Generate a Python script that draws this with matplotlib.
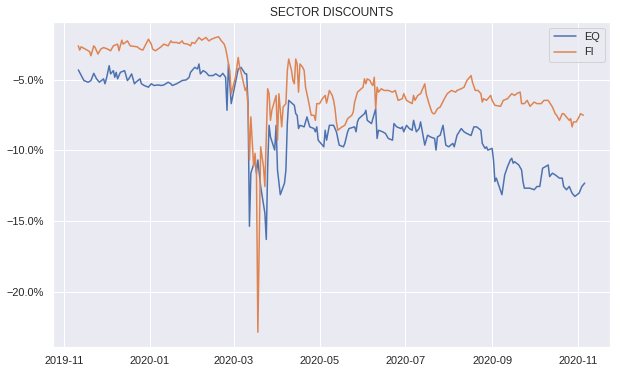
import numpy as np
import pandas as pd
import matplotlib
matplotlib.use("Agg")
import matplotlib.pyplot as plt
import matplotlib.dates as mdates
from matplotlib.ticker import PercentFormatter
import seaborn as sns

# EQ discount (%)
eq_dates = [
    "2019-11-11", "2019-11-15", "2019-11-18", "2019-11-20", "2019-11-22", "2019-11-24", "2019-11-26", "2019-11-29", "2019-11-30",
    "2019-12-01", "2019-12-03", "2019-12-04", "2019-12-06", "2019-12-07", "2019-12-08", "2019-12-09", "2019-12-11", "2019-12-14",
    "2019-12-16", "2019-12-17", "2019-12-19", "2019-12-21", "2019-12-22", "2019-12-25", "2019-12-26", "2019-12-28", "2019-12-31",
    "2020-01-02", "2020-01-04", "2020-01-07", "2020-01-09", "2020-01-11", "2020-01-14", "2020-01-16", "2020-01-17", "2020-01-20",
    "2020-01-22", "2020-01-24", "2020-01-27", "2020-01-29", "2020-01-30",
    "2020-02-02", "2020-02-04", "2020-02-05", "2020-02-06", "2020-02-08", "2020-02-10", "2020-02-12", "2020-02-15", "2020-02-17",
    "2020-02-20", "2020-02-22", "2020-02-24", "2020-02-25", "2020-02-26", "2020-02-28",
    "2020-03-04", "2020-03-06", "2020-03-09", "2020-03-10", "2020-03-11", "2020-03-12", "2020-03-13", "2020-03-16", "2020-03-17",
    "2020-03-18", "2020-03-20", "2020-03-23", "2020-03-24", "2020-03-25", "2020-03-26", "2020-03-27", "2020-03-30", "2020-03-31",
    "2020-04-01", "2020-04-03", "2020-04-06", "2020-04-07", "2020-04-08", "2020-04-09", "2020-04-13", "2020-04-14", "2020-04-15",
    "2020-04-16", "2020-04-17", "2020-04-20", "2020-04-22", "2020-04-24", "2020-04-27", "2020-04-28", "2020-04-29", "2020-04-30",
    "2020-05-04", "2020-05-05", "2020-05-06", "2020-05-08", "2020-05-11", "2020-05-13", "2020-05-15", "2020-05-18", "2020-05-19",
    "2020-05-21", "2020-05-22", "2020-05-26", "2020-05-27", "2020-05-28", "2020-05-29",
    "2020-06-02", "2020-06-03", "2020-06-04", "2020-06-07", "2020-06-09", "2020-06-10", "2020-06-11", "2020-06-12", "2020-06-15",
    "2020-06-17", "2020-06-19", "2020-06-22", "2020-06-23", "2020-06-25", "2020-06-28", "2020-06-29", "2020-06-30",
    "2020-07-02", "2020-07-04", "2020-07-06", "2020-07-07", "2020-07-09", "2020-07-11", "2020-07-12", "2020-07-15", "2020-07-17",
    "2020-07-19", "2020-07-22", "2020-07-23", "2020-07-24", "2020-07-26", "2020-07-28", "2020-07-30",
    "2020-08-01", "2020-08-04", "2020-08-05", "2020-08-07", "2020-08-10", "2020-08-12", "2020-08-14", "2020-08-17", "2020-08-19",
    "2020-08-21", "2020-08-24", "2020-08-25", "2020-08-27", "2020-08-28", "2020-08-29",
    "2020-09-01", "2020-09-02", "2020-09-03", "2020-09-04", "2020-09-06", "2020-09-08", "2020-09-10", "2020-09-12", "2020-09-14",
    "2020-09-15", "2020-09-16", "2020-09-17", "2020-09-20", "2020-09-22", "2020-09-23", "2020-09-24", "2020-09-28",
    "2020-10-01", "2020-10-03", "2020-10-05", "2020-10-07", "2020-10-09", "2020-10-11", "2020-10-12", "2020-10-14", "2020-10-16",
    "2020-10-19", "2020-10-21", "2020-10-22", "2020-10-24", "2020-10-26", "2020-10-28", "2020-10-30",
    "2020-11-02", "2020-11-04", "2020-11-06",
]
eq_vals = [
    -4.32, -5.07, -5.19, -5.07, -4.56, -4.95, -5.19, -4.95, -5.30,
    -4.95, -4.02, -4.60, -4.37, -4.84, -4.49, -4.95, -4.49, -4.37,
    -5.07, -4.95, -4.60, -5.30, -5.19, -4.95, -5.30, -5.42, -5.54,
    -5.30, -5.42, -5.38, -5.42, -5.38, -5.19, -5.30, -5.42, -5.30,
    -5.19, -5.07, -5.02, -4.84, -4.49,
    -4.14, -4.25, -3.90, -4.60, -4.37, -4.49, -4.72, -4.72, -4.60,
    -4.79, -4.56, -4.84, -7.17, -3.90, -6.70,
    -4.25, -4.14, -4.60, -4.60, -6.70, -15.36, -11.61, -10.68, -11.61,
    -10.68, -12.55, -14.42, -16.29, -11.15, -8.23, -9.05, -9.98, -8.23,
    -11.38, -13.13, -12.31, -11.38, -8.11, -6.47, -6.82, -7.41, -7.52,
    -8.46, -8.23, -8.34, -7.64, -8.34, -8.46, -8.69, -8.34, -9.28,
    -9.75, -8.58, -9.28, -8.23, -8.23, -8.69, -9.63, -9.75, -9.51,
    -8.69, -8.46, -8.34, -8.69, -7.99, -7.76,
    -7.41, -7.17, -7.88, -8.11, -7.41, -7.06, -9.16, -8.58, -8.69,
    -8.81, -9.16, -9.28, -8.11, -8.34, -8.46, -8.34, -8.69,
    -8.23, -8.46, -8.58, -7.88, -8.69, -8.46, -7.99, -9.63, -8.93,
    -9.05, -9.16, -9.98, -9.05, -8.93, -8.23, -9.63,
    -9.75, -9.51, -9.75, -8.93, -8.46, -8.69, -8.81, -8.95, -8.34,
    -8.34, -8.58, -9.51, -9.86, -9.75, -9.98,
    -9.86, -10.68, -12.20, -11.96, -12.55, -13.13, -11.73, -11.15, -10.68,
    -10.56, -10.91, -10.80, -11.03, -11.38, -12.20, -12.67, -12.67,
    -12.78, -12.55, -12.55, -11.26, -11.15, -11.03, -11.85, -11.61, -11.73,
    -11.96, -11.96, -12.55, -12.78, -12.55, -13.02, -13.25,
    -13.02, -12.55, -12.31,
]

# FI discount (%)
fi_dates = [
    "2019-11-11", "2019-11-12", "2019-11-13", "2019-11-16", "2019-11-19", "2019-11-20", "2019-11-22", "2019-11-23", "2019-11-25",
    "2019-11-27", "2019-11-29",
    "2019-12-02", "2019-12-04", "2019-12-06", "2019-12-09", "2019-12-10", "2019-12-12", "2019-12-13", "2019-12-16", "2019-12-18",
    "2019-12-23", "2019-12-25", "2019-12-27", "2019-12-31",
    "2020-01-02", "2020-01-03", "2020-01-05", "2020-01-09", "2020-01-11", "2020-01-14", "2020-01-16", "2020-01-17", "2020-01-20",
    "2020-01-22", "2020-01-24", "2020-01-25", "2020-01-28", "2020-01-30", "2020-01-31",
    "2020-02-02", "2020-02-05", "2020-02-07", "2020-02-10", "2020-02-12", "2020-02-14", "2020-02-17", "2020-02-19", "2020-02-21",
    "2020-02-23", "2020-02-24", "2020-02-25", "2020-02-27", "2020-02-28",
    "2020-03-02", "2020-03-04", "2020-03-05", "2020-03-06", "2020-03-09", "2020-03-10", "2020-03-11", "2020-03-12", "2020-03-13",
    "2020-03-15", "2020-03-16", "2020-03-17", "2020-03-18", "2020-03-19", "2020-03-20", "2020-03-22", "2020-03-23", "2020-03-25",
    "2020-03-26", "2020-03-27", "2020-03-28", "2020-03-29", "2020-03-31",
    "2020-04-01", "2020-04-02", "2020-04-04", "2020-04-05", "2020-04-07", "2020-04-08", "2020-04-09", "2020-04-11", "2020-04-12",
    "2020-04-13", "2020-04-14", "2020-04-15", "2020-04-16", "2020-04-17", "2020-04-19", "2020-04-20", "2020-04-21", "2020-04-23",
    "2020-04-25", "2020-04-27", "2020-04-28", "2020-04-29",
    "2020-05-01", "2020-05-03", "2020-05-05", "2020-05-06", "2020-05-08", "2020-05-10", "2020-05-11", "2020-05-12", "2020-05-13",
    "2020-05-14", "2020-05-17", "2020-05-19", "2020-05-21", "2020-05-24", "2020-05-25", "2020-05-26", "2020-05-28",
    "2020-06-01", "2020-06-02", "2020-06-03", "2020-06-04", "2020-06-06", "2020-06-07", "2020-06-08", "2020-06-09", "2020-06-10",
    "2020-06-11", "2020-06-12", "2020-06-14", "2020-06-16", "2020-06-19", "2020-06-22", "2020-06-24", "2020-06-26", "2020-06-29",
    "2020-06-30",
    "2020-07-02", "2020-07-04", "2020-07-06", "2020-07-07", "2020-07-08", "2020-07-10", "2020-07-12", "2020-07-15", "2020-07-16",
    "2020-07-18", "2020-07-20", "2020-07-21", "2020-07-22", "2020-07-24", "2020-07-26", "2020-07-29", "2020-07-31",
    "2020-08-03", "2020-08-06", "2020-08-07", "2020-08-10", "2020-08-12", "2020-08-14", "2020-08-17", "2020-08-18", "2020-08-20",
    "2020-08-22", "2020-08-24", "2020-08-25", "2020-08-26", "2020-08-28", "2020-08-31",
    "2020-09-01", "2020-09-03", "2020-09-07", "2020-09-09", "2020-09-10", "2020-09-12", "2020-09-15", "2020-09-17", "2020-09-19",
    "2020-09-21", "2020-09-22", "2020-09-24", "2020-09-26", "2020-09-28",
    "2020-10-01", "2020-10-03", "2020-10-06", "2020-10-08", "2020-10-11", "2020-10-14", "2020-10-16", "2020-10-17", "2020-10-19",
    "2020-10-21", "2020-10-22", "2020-10-24", "2020-10-26", "2020-10-27", "2020-10-28", "2020-10-29", "2020-10-31",
    "2020-11-02", "2020-11-03", "2020-11-05",
]
fi_vals = [
    -2.62, -2.92, -2.69, -2.85, -3.02, -3.32, -2.62, -2.74, -3.20,
    -2.85, -2.74,
    -2.85, -2.97, -2.62, -2.50, -2.97, -2.22, -2.50, -2.27, -2.62,
    -2.69, -2.85, -2.92, -2.15,
    -2.50, -2.85, -2.97, -2.69, -2.50, -2.62, -2.27, -2.38, -2.38,
    -2.45, -2.27, -2.45, -2.50, -2.62, -2.38,
    -2.45, -2.03, -2.22, -2.03, -2.27, -2.15, -2.03, -1.98, -2.27,
    -2.50, -2.80, -3.30, -4.40, -6.00,
    -4.84, -3.44, -4.14, -4.49, -5.77, -5.54, -6.94, -10.68, -7.64,
    -11.15, -10.21, -11.61, -22.84, -16.52, -9.75, -11.15, -12.55, -5.65,
    -6.00, -7.88, -7.17, -6.82, -6.12,
    -9.28, -6.00, -8.34, -6.94, -6.70, -4.37, -3.55, -4.37, -5.07,
    -5.30, -3.55, -3.90, -5.89, -3.90, -4.14, -4.37, -5.54, -6.47,
    -7.52, -7.52, -7.88, -6.70,
    -6.70, -6.35, -6.12, -6.66, -5.77, -6.12, -6.47, -7.06, -7.99,
    -8.58, -8.34, -8.23, -7.76, -7.52, -7.29, -6.59, -5.89,
    -5.54, -4.95, -5.30, -4.95, -5.07, -5.30, -5.42, -4.84, -7.06,
    -5.54, -5.89, -5.65, -5.77, -5.77, -5.89, -5.77, -6.47, -6.35,
    -6.00,
    -6.47, -6.59, -6.70, -6.12, -6.47, -6.12, -6.00, -5.30, -6.00,
    -6.70, -7.29, -7.41, -7.41, -7.06, -6.94, -6.35, -6.00,
    -5.77, -5.89, -5.77, -5.65, -5.54, -5.07, -4.72, -5.19, -5.77,
    -5.77, -6.00, -6.59, -6.35, -6.47, -6.12,
    -6.47, -6.82, -6.89, -6.47, -6.43, -6.35, -6.00, -6.12, -5.96,
    -5.89, -6.70, -6.70, -6.47, -6.89,
    -6.59, -6.70, -6.70, -6.47, -6.47, -6.94, -7.41, -7.52, -7.88,
    -7.41, -7.41, -7.64, -7.88, -7.76, -8.34, -7.99, -7.99,
    -7.64, -7.41, -7.52,
]

sns.set_theme()
plt.rcParams['font.family'] = ['Liberation Sans', 'DejaVu Sans']

fig = plt.figure(figsize=(622 / 72, 374 / 72), dpi=72)
ax = fig.add_axes([53 / 622, 1 - 347 / 374, 557 / 622, 325 / 374])

ax.plot(pd.to_datetime(eq_dates), eq_vals, label="EQ")
ax.plot(pd.to_datetime(fi_dates), fi_vals, label="FI")

ax.set_title("SECTOR DISCOUNTS")
ax.yaxis.set_major_formatter(PercentFormatter(100, decimals=1))
ax.xaxis.set_major_locator(mdates.MonthLocator(bymonth=[1, 3, 5, 7, 9, 11]))
ax.xaxis.set_major_formatter(mdates.DateFormatter("%Y-%m"))
ax.legend(loc="upper right")

fig.savefig("out.png", dpi=72)
